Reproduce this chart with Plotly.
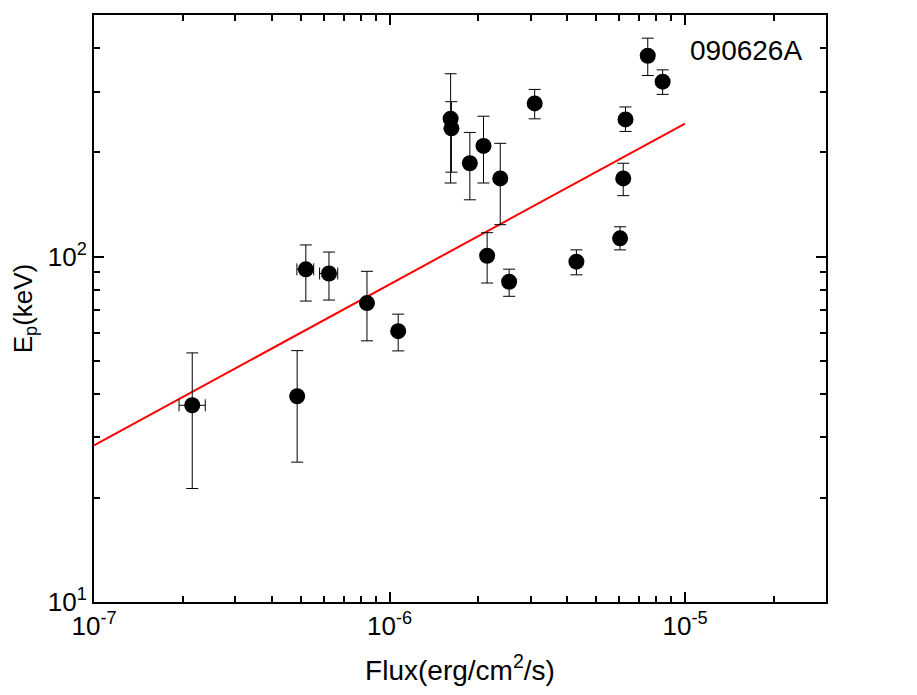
import numpy as np
import plotly.graph_objects as go

# Ep vs flux for GRB 090626A, with power-law fit

flux = [2.15e-7, 4.87e-7, 5.21e-7, 6.24e-7, 8.39e-7, 1.07e-6, 1.61e-6, 1.62e-6,
        1.87e-6, 2.08e-6, 2.37e-6, 2.14e-6, 2.54e-6, 3.10e-6, 4.29e-6, 6.03e-6,
        6.18e-6, 6.29e-6, 7.48e-6, 8.40e-6]
flux_err_plus = [0.23e-7, 0.0, 0.33e-7, 0.44e-7, 0, 0, 0, 0, 0, 0, 0, 0, 0, 0, 0, 0, 0, 0, 0, 0]
flux_err_minus = [0.21e-7, 0.0, 0.35e-7, 0.44e-7, 0, 0, 0, 0, 0, 0, 0, 0, 0, 0, 0, 0, 0, 0, 0, 0]

ep = [37.1, 39.4, 91.8, 89.3, 73.3, 60.8, 250.6, 234.9, 186.2, 208.9, 168.3,
      100.5, 84.5, 277.4, 96.6, 112.9, 168.3, 249.3, 381.0, 320.6]
ep_upper = [52.6, 53.4, 108.0, 103.0, 90.6, 68.1, 338.0, 280.6, 228.6, 254.7, 212.6,
            117.2, 91.9, 304.5, 104.5, 121.9, 186.2, 270.9, 428.5, 346.9]
ep_lower = [21.3, 25.4, 74.3, 74.8, 57.0, 53.3, 163.2, 175.4, 145.9, 163.2, 123.6,
            83.8, 76.7, 250.3, 88.5, 104.5, 150.0, 230.1, 334.0, 294.6]

# fitted line end points
fit_flux = [1e-7, 1e-5]
fit_ep = [28.4, 242.6]

err_plus = [u - v for u, v in zip(ep_upper, ep)]
err_minus = [v - l for v, l in zip(ep, ep_lower)]

FONT = 'Liberation Sans, Arial'

fig = go.Figure()
fig.add_trace(go.Scatter(
    x=fit_flux, y=fit_ep, mode='lines',
    line=dict(color='#ff0000', width=2), hoverinfo='skip'))
fig.add_trace(go.Scatter(
    x=flux, y=ep, mode='markers',
    marker=dict(color='black', size=16),
    error_y=dict(type='data', symmetric=False, array=err_plus, arrayminus=err_minus,
                 color='black', thickness=1, width=6),
    error_x=dict(type='data', symmetric=False, array=flux_err_plus, arrayminus=flux_err_minus,
                 color='black', thickness=1, width=6)))

x_minor = [k * 10.0 ** e for e in range(-7, -4) for k in range(2, 10) if k * 10.0 ** e < 3e-5]
y_minor = [k * 10.0 ** e for e in range(1, 3) for k in range(2, 10) if k * 10.0 ** e < 500]

TICK_SIZE = 26

fig.update_xaxes(
    type='log', range=[-7, np.log10(3e-5)],
    showline=True, linecolor='black', linewidth=2, mirror='allticks',
    ticks='inside', ticklen=10, tickwidth=2, tickcolor='black',
    showgrid=False, zeroline=False,
    tickmode='array', tickvals=[1e-7, 1e-6, 1e-5],
    ticktext=['10<sup>-7</sup>', '10<sup>-6</sup>', '10<sup>-5</sup>'],
    tickfont_family=FONT, tickfont_size=TICK_SIZE, tickfont_color='black',
    minor=dict(tickvals=x_minor, ticks='inside', ticklen=6, tickwidth=2, tickcolor='black'),
    title=dict(text='Flux(erg/cm<sup>2</sup>/s)', standoff=20,
               font=dict(family=FONT, size=28, color='black')))
fig.update_yaxes(
    type='log', range=[1, np.log10(500)],
    showline=True, linecolor='black', linewidth=2, mirror='allticks',
    ticks='inside', ticklen=10, tickwidth=2, tickcolor='black',
    showgrid=False, zeroline=False,
    tickmode='array', tickvals=[10, 100],
    ticktext=['10<sup>1</sup>', '10<sup>2</sup>'],
    tickfont_family=FONT, tickfont_size=TICK_SIZE, tickfont_color='black',
    minor=dict(tickvals=y_minor, ticks='inside', ticklen=6, tickwidth=2, tickcolor='black'),
    title=dict(text='E<sub>p</sub>(keV)', standoff=11,
               font=dict(family=FONT, size=26, color='black')))

fig.add_annotation(
    x=np.log10(1.02e-5), y=np.log10(395), xref='x', yref='y', text='090626A',
    showarrow=False, xanchor='left', yanchor='middle',
    font=dict(family=FONT, size=28, color='black'))

# page body has an 8px margin, so pull the plot area back by that much
fig.update_layout(
    width=917, height=695, showlegend=False,
    font=dict(family=FONT, size=21, color='black'),
    margin=dict(l=86, r=99, t=5, b=101),
    plot_bgcolor='white', paper_bgcolor='white')

fig.write_html("out.html")
